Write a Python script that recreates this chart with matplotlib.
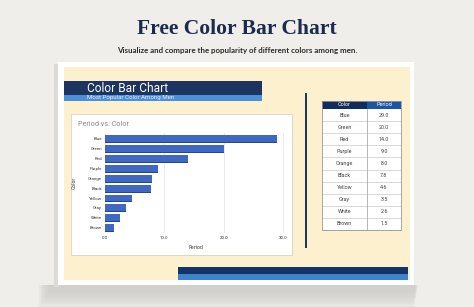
import matplotlib
matplotlib.use("Agg")
import matplotlib.pyplot as plt
from matplotlib.patches import Rectangle
import numpy as np

colors = ["Blue", "Green", "Red", "Purple", "Orange", "Black", "Yellow", "Gray", "White", "Brown"]
period = [29.0, 20.0, 14.0, 9.0, 8.0, 7.8, 4.6, 3.5, 2.6, 1.5]
xticks = [0, 10, 20, 30]
xtick_labels = ["0.0", "10.0", "20.0", "30.0"]

W, H = 474, 307
fig = plt.figure(figsize=(W / 100, H / 100), dpi=100)
fig.patch.set_facecolor("#efeeeb")

bg = fig.add_axes([0, 0, 1, 1])
bg.set_xlim(0, W)
bg.set_ylim(H, 0)
bg.axis("off")

def rect(x0, y0, x1, y1, c, z=1, **kw):
    bg.add_patch(Rectangle((x0, y0), x1 - x0, y1 - y0, facecolor=c, edgecolor="none", zorder=z, **kw))

# shadow under sheet
for i in range(8):
    rect(50 - i * 1.5, 285, 418 - i * 0.5, 289 + i * 2.5, "#cfcecb", z=0.5, alpha=0.22)
rect(54, 64, 59, 287, "#dcdbd7", z=0.6)
# white sheet
rect(58, 62, 414, 285, "white", z=1)
# cream
rect(64, 67, 410, 280, "#fdf0cf", z=2)
# title band
rect(64, 81, 262, 94.5, "#1d3461", z=3)
rect(64, 94.5, 262, 101, "#4a8fd8", z=3)
bg.text(87, 88, "Color Bar Chart", color="white", fontsize=8.6, family="Roboto", va="center", ha="left", zorder=4)
bg.text(87, 97.8, "Most Popular Color Among Men", color="#e6eefa", fontsize=4.4, family="Roboto", va="center", ha="left", zorder=4)
# chart area
rect(71, 114, 292, 255, "white", z=3)
bg.add_patch(Rectangle((71, 114), 221, 141, facecolor="none", edgecolor="#d6d3cc", lw=0.6, zorder=3.5))
bg.text(78, 125, "Period vs. Color", color="#8a8a8a", fontsize=5.2, family="Roboto", va="center", ha="left", zorder=4)
# vertical line
rect(305.5, 93, 307.5, 248, "#1b3a5c", z=3)
# bottom bars
rect(178, 267, 408, 273.5, "#123466", z=3)
rect(178, 273.5, 408, 280, "#3f84cb", z=3)

# header texts
bg.text(W / 2, 29.5, "Free Color Bar Chart", color="#1c2b4c", fontsize=15.5, family="Liberation Serif",
        weight="bold", ha="center", va="center", zorder=4)
bg.text(W / 2, 51, "Visualize and compare the popularity of different colors among men.", color="#2a2a2a",
        fontsize=5.7, family="Lato", weight="bold", ha="center", va="center", zorder=4)

# table
tx0, tx1, tmid = 322, 401, 367
ty0 = 100.5
hh = 8.5
rh = (230 - (ty0 + hh)) / len(colors)
rect(tx0, ty0, tx1, 230, "white", z=3)
rect(tx0, ty0, tmid, ty0 + hh, "#0f2e5c", z=4)
rect(tmid, ty0, tx1, ty0 + hh, "#1d55a6", z=4)
bg.text((tx0 + tmid) / 2, ty0 + hh / 2, "Color", color="white", fontsize=4, family="Roboto", ha="center", va="center", zorder=5)
bg.text((tmid + tx1) / 2, ty0 + hh / 2, "Period", color="white", fontsize=4, family="Roboto", ha="center", va="center", zorder=5)
for i, (c, p) in enumerate(zip(colors, period)):
    yy = ty0 + hh + i * rh
    bg.plot([tx0, tx1], [yy + rh, yy + rh], color="#c9c9c9", lw=0.5, zorder=4)
    bg.text((tx0 + tmid) / 2, yy + rh / 2, c, color="#444444", fontsize=3.9, family="Roboto", ha="center", va="center", zorder=5)
    bg.text((tmid + tx1) / 2, yy + rh / 2, f"{p:.1f}", color="#444444", fontsize=3.9, family="Roboto", ha="center", va="center", zorder=5)
bg.plot([tmid, tmid], [ty0 + hh, 230], color="#9a9a9a", lw=0.5, zorder=4)
bg.add_patch(Rectangle((tx0, ty0), tx1 - tx0, 230 - ty0, facecolor="none", edgecolor="#9a9a9a", lw=0.6, zorder=5))

# bar chart axes
axl, axr = 105, 286
axt, axb = 133, 233
ax = fig.add_axes([axl / W, 1 - axb / H, (axr - axl) / W, (axb - axt) / H])
ax.set_facecolor("none")
y = np.arange(len(colors))
ax.barh(y + 0.1, period, height=0.7, color="#2a458a", zorder=2)
ax.barh(y, period, height=0.7, color="#3f67c4", zorder=3)
ax.set_yticks(y)
ax.set_yticklabels(colors)
ax.invert_yaxis()
ax.set_xlim(0, 30.5)
ax.set_ylim(len(colors) - 0.45, -0.6)
ax.set_xticks(xticks)
ax.set_xticklabels(xtick_labels)
ax.tick_params(axis="both", labelsize=3.2, length=0, pad=2, colors="#333333")
for s in ax.spines.values():
    s.set_visible(False)
ax.grid(axis="x", color="#e3e3e3", lw=0.5, zorder=0)
ax.set_axisbelow(True)
ax.set_xlabel("Period", fontsize=3.4, color="#333333", labelpad=4)
ax.set_ylabel("Color", fontsize=3.4, color="#333333", labelpad=8)
for t in ax.get_xticklabels() + ax.get_yticklabels():
    t.set_family("Roboto")

fig.savefig("out.png", dpi=100, facecolor=fig.get_facecolor())
